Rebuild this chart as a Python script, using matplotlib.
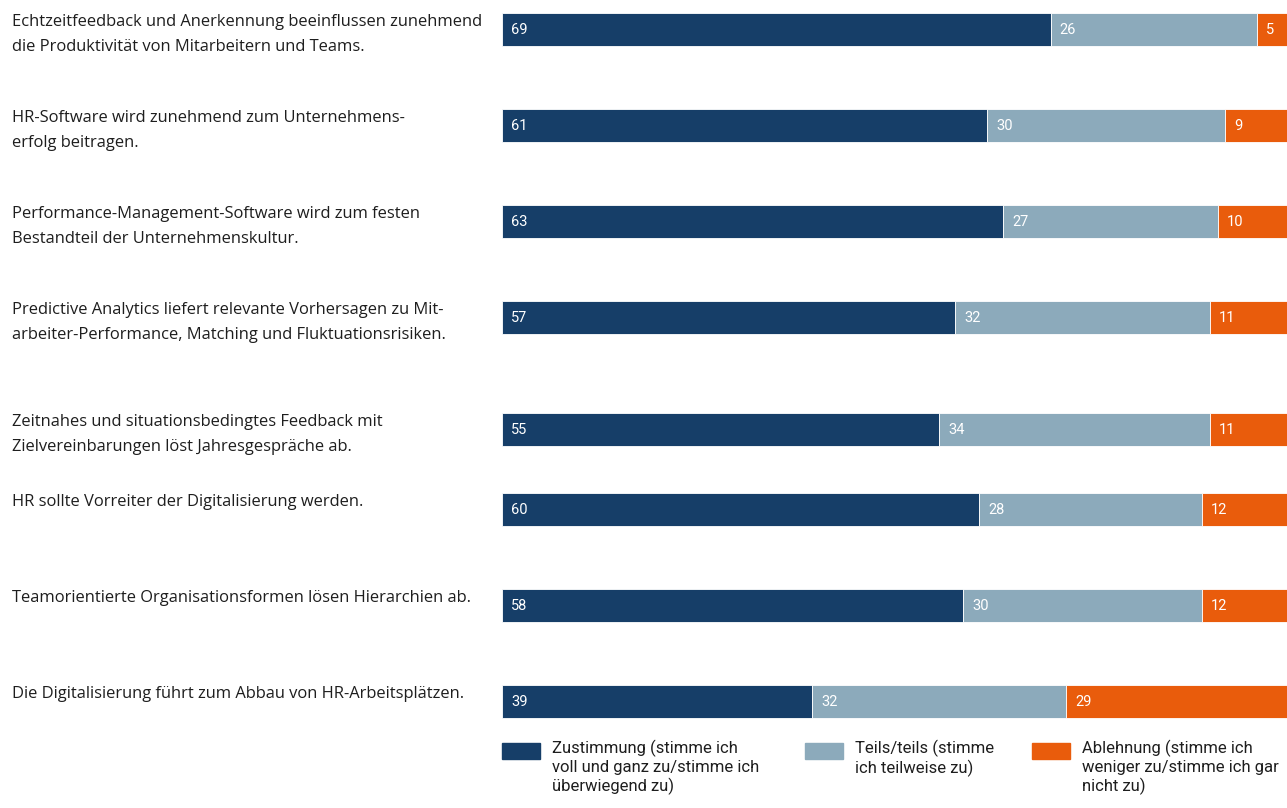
"""Stacked agreement bars: HR digitalisation statements (Zustimmung / Teils / Ablehnung)."""
import numpy as np
import matplotlib
matplotlib.use('Agg')
import matplotlib.pyplot as plt
import matplotlib.font_manager as fm
from matplotlib.patches import Rectangle
from matplotlib.transforms import blended_transform_factory

# --- data -------------------------------------------------------------------
statements = [
    'Echtzeitfeedback und Anerkennung beeinflussen zunehmend\n'
    'die Produktivität von Mitarbeitern und Teams.',
    'HR-Software wird zunehmend zum Unternehmens-\nerfolg beitragen.',
    'Performance-Management-Software wird zum festen\n'
    'Bestandteil der Unternehmenskultur.',
    'Predictive Analytics liefert relevante Vorhersagen zu Mit-\n'
    'arbeiter-Performance, Matching und Fluktuationsrisiken.',
    'Zeitnahes und situationsbedingtes Feedback mit\n'
    'Zielvereinbarungen löst Jahresgespräche ab.',
    'HR sollte Vorreiter der Digitalisierung werden.',
    'Teamorientierte Organisationsformen lösen Hierarchien ab.',
    'Die Digitalisierung führt zum Abbau von HR-Arbeitsplätzen.',
]
zustimmung = [69, 61, 63, 57, 55, 60, 58, 39]
teils = [26, 30, 27, 32, 34, 28, 30, 32]
ablehnung = [5, 9, 10, 11, 11, 12, 12, 29]
legend_labels = [
    'Zustimmung (stimme ich\nvoll und ganz zu/stimme ich\nüberwiegend zu)',
    'Teils/teils (stimme\nich teilweise zu)',
    'Ablehnung (stimme ich\nweniger zu/stimme ich gar\nnicht zu)',
]

# --- style ------------------------------------------------------------------
COLORS = ['#163e68', '#8caabb', '#e95c0c']
TEXT_COLOR = '#1e1e1e'
ROW_NUDGE = {4: 1 / 6}      # the fifth row sits a bit lower in the original layout

_names = {f.name for f in fm.fontManager.ttflist}
COND = 'Liberation Sans Narrow' if 'Liberation Sans Narrow' in _names else 'Roboto'
LABEL_FONT = 'Open Sans'

W, H = 1287, 808
fig = plt.figure(figsize=(W / 100, H / 100), dpi=100)
ax = fig.add_axes([502 / W, 0, 785 / W, 1])
ax.axis('off')

n = len(statements)
y = np.arange(n, dtype=float)
for i, d in ROW_NUDGE.items():
    y[i] += d
bar_h = 33 / 96

left = np.zeros(n)
for vals, col in zip([zustimmung, teils, ablehnung], COLORS):
    vals = np.asarray(vals, dtype=float)
    ax.barh(y, vals, left=left, height=bar_h, align='edge', color=col,
            edgecolor='white', linewidth=0.6)
    for yi, l, v in zip(y, left, vals):
        ax.text(l + 1.15, yi + bar_h / 2 + 0.01, f'{v:.0f}', va='center', ha='left',
                color='white', fontsize=10.5, family=COND)
    left += vals

ax.set_xlim(0, 785 / 7.95)
ax.set_ylim((H - 13) / 96, -13 / 96)

# statement labels to the left of the bars
tr = blended_transform_factory(fig.transFigure, ax.transData)
for yi, s in zip(y, statements):
    fig.text(12 / W, yi + 0.01, s, transform=tr, va='top', ha='left',
             fontsize=11.9, family=LABEL_FONT, color=TEXT_COLOR, linespacing=1.75)

# legend
leg_x = [502, 805, 1032]
for x0, col, lab in zip(leg_x, COLORS, legend_labels):
    fig.patches.append(Rectangle((x0 / W, 1 - 759 / H), 38 / W, 16 / H,
                                 transform=fig.transFigure, color=col))
    fig.text((x0 + 50) / W, 1 - 740 / H, lab, va='top', ha='left', fontsize=12,
             family=COND, color=TEXT_COLOR, linespacing=1.2)

fig.savefig('out.png', dpi=100)
